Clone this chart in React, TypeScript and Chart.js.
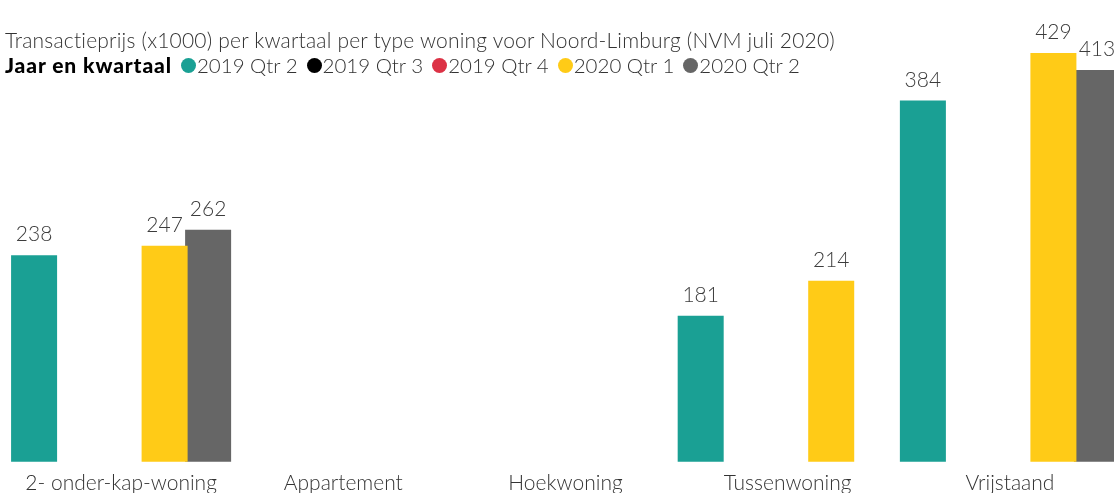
import React, { useEffect, useRef } from 'react';
import { Chart, registerables } from 'chart.js';

Chart.register(...registerables);

// ---- data ----
const categories = ['2- onder-kap-woning', 'Appartement', 'Hoekwoning', 'Tussenwoning', 'Vrijstaand'];
const seriesNames = ['2019 Qtr 2', '2019 Qtr 3', '2019 Qtr 4', '2020 Qtr 1', '2020 Qtr 2'];
const values2019Q2 = [238, null, null, 181, 384];
const values2019Q3 = [null, null, null, null, null];
const values2019Q4 = [null, null, null, null, null];
const values2020Q1 = [247, null, null, 214, 429];
const values2020Q2 = [262, null, null, null, 413];
const seriesColors = ['#1AA094', '#000000', '#DC3245', '#FFCB17', '#666666'];

const titleText = 'Transactieprijs (x1000) per kwartaal per type woning voor Noord-Limburg (NVM juli 2020)';
const legendTitle = 'Jaar en kwartaal';

const FONT = 'Lato, "Open Sans", sans-serif';

const valueLabels = {
  id: 'valueLabels',
  afterDatasetsDraw(chart: any) {
    const ctx = chart.ctx;
    ctx.save();
    ctx.font = `300 21px ${FONT}`;
    ctx.fillStyle = '#3c3c3c';
    ctx.textAlign = 'center';
    ctx.textBaseline = 'alphabetic';
    chart.data.datasets.forEach((ds: any, i: number) => {
      const meta = chart.getDatasetMeta(i);
      meta.data.forEach((bar: any, j: number) => {
        const v = ds.data[j];
        if (v == null) return;
        ctx.fillText(String(v), bar.x, bar.y - 14);
      });
    });
    ctx.restore();
  },
};

export default function App() {
  const canvasRef = useRef<HTMLCanvasElement | null>(null);

  useEffect(() => {
    if (!canvasRef.current) return;
    const allSeries = [values2019Q2, values2019Q3, values2019Q4, values2020Q1, values2020Q2];
    const chart = new Chart(canvasRef.current, {
      type: 'bar',
      data: {
        labels: categories,
        datasets: allSeries.map((d, i) => ({
          label: seriesNames[i],
          data: d,
          backgroundColor: seriesColors[i],
          borderWidth: 0,
          categoryPercentage: 0.979,
          barPercentage: 1.0575,
        })),
      },
      options: {
        responsive: false,
        animation: false,
        layout: { padding: { left: 10, right: 0, top: 0, bottom: 0 } },
        plugins: {
          legend: { display: false },
          title: { display: false },
          tooltip: { enabled: false },
        },
        scales: {
          x: {
            grid: { display: false, drawTicks: false },
            border: { display: false },
            ticks: {
              color: '#333333',
              font: { family: FONT, size: 21, weight: '300' as any, lineHeight: 1.2 },
              padding: 9,
              maxRotation: 0,
              autoSkip: false,
            },
          },
          y: {
            display: false,
            min: 43,
            max: 479,
          },
        },
      },
      plugins: [valueLabels],
    });
    return () => chart.destroy();
  }, []);

  return (
    <div style={{ position: 'fixed', left: 0, top: 0, width: 1114, height: 493, overflow: 'hidden', background: '#fff' }}>
      <canvas ref={canvasRef} width={1121} height={505} style={{ position: 'absolute', left: 0, top: 0 }} />
      <div
        style={{
          position: 'absolute', left: 5, top: 28, fontFamily: FONT, fontWeight: 300,
          fontSize: 21, lineHeight: '24px', color: '#333333', whiteSpace: 'nowrap', letterSpacing: 0.2,
        }}
      >
        {titleText}
      </div>
      <div
        style={{
          position: 'absolute', left: 5, top: 53, fontFamily: FONT, fontWeight: 300,
          fontSize: 20.5, lineHeight: '24px', color: '#333333', whiteSpace: 'nowrap',
          display: 'flex', alignItems: 'center',
        }}
      >
        <span style={{ fontWeight: 900, fontSize: 21, color: '#000', marginRight: 9, letterSpacing: 0.9 }}>{legendTitle}</span>
        {seriesNames.map((name, i) => (
          <span key={name} style={{ display: 'inline-flex', alignItems: 'center', marginRight: 9 }}>
            <span
              style={{
                display: 'inline-block', width: 15, height: 15, borderRadius: '50%',
                background: seriesColors[i], marginRight: 1,
              }}
            />
            {name}
          </span>
        ))}
      </div>
    </div>
  );
}
